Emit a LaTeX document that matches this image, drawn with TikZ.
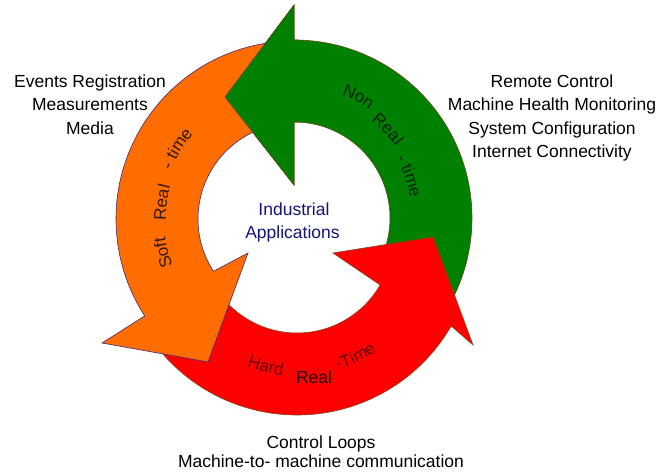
\documentclass[tikz,border=0pt]{standalone}
\usepackage{fontspec}
\setmainfont{Liberation Sans}
\usetikzlibrary{decorations.text}
\definecolor{orng}{RGB}{255,108,0}
\definecolor{grn}{RGB}{0,128,0}
\definecolor{rd}{RGB}{255,0,0}
\definecolor{orngline}{RGB}{70,40,110}
\definecolor{grnline}{RGB}{100,70,20}
\definecolor{rdline}{RGB}{130,70,30}
\definecolor{navytxt}{RGB}{20,20,125}
\definecolor{gtxt}{RGB}{0,35,0}
\definecolor{otxt}{RGB}{50,25,0}
\definecolor{rtxt}{RGB}{105,0,0}
\definecolor{rreal}{RGB}{40,0,0}
\newcommand{\arcfont}{\fontsize{17}{20}\selectfont}
\newcommand{\grnpath}{([shift={(-30:96)}]gc) arc[start angle=-30, end angle=90, radius=96] -- (294,290) -- (225,378) -- (294,470) -- ([shift={(90:178)}]gc) arc[start angle=90, end angle=-30, radius=178] -- cycle}
\tikzset{
  arrowbody/.style={line width=0.6pt, line join=miter},
  lbl/.style={font=\fontsize{17.5}{21}\selectfont, anchor=base, inner sep=0pt},
  ctr/.style={font=\fontsize{17.5}{21}\selectfont, anchor=base, inner sep=0pt, text=navytxt},
}
\begin{document}
\begin{tikzpicture}[x=1pt,y=1pt]
\useasboundingbox (0,0) rectangle (661,475);
\coordinate (gc) at (294,257);
\coordinate (oc) at (294,256);
\coordinate (rc) at (297,238);

% green arrow
\path[arrowbody, fill=grn, draw=grnline] \grnpath;
% red arrow
\path[arrowbody, fill=rd, draw=rdline] ([shift={(215:178)}]rc) arc[start angle=215, end angle=330, radius=178] -- (473,130) -- (433,238) -- (333,222) -- ([shift={(330:96)}]rc) arc[start angle=330, end angle=215, radius=96] -- cycle;
% orange arrow
\path[arrowbody, fill=orng, draw=orngline] ([shift={(95:178)}]oc) arc[start angle=95, end angle=213, radius=178] -- (102,132) -- (208,113) -- (248,222) -- ([shift={(213:96)}]oc) arc[start angle=213, end angle=95, radius=96] -- cycle;
% green head over orange tail
\begin{scope}
\clip (150,280) rectangle (300,475);
\path[arrowbody, fill=grn, draw=grnline] \grnpath;
\end{scope}

% texts on green
\path[decorate, decoration={text along path, text={|\arcfont|Non}, text align=center, text color=gtxt}] ([shift={(74:132)}]gc) arc[start angle=74, end angle=50, radius=132];
\path[decorate, decoration={text along path, text={|\arcfont|Real}, text align=center, text color=gtxt}] ([shift={(57:124)}]gc) arc[start angle=57, end angle=30, radius=124];
\path[decorate, decoration={text along path, text={|\arcfont|- time}, text align=center, text color=gtxt}] ([shift={(38:118)}]gc) arc[start angle=38, end angle=2, radius=118];
% texts on orange
\path[decorate, decoration={text along path, text={|\arcfont|Soft}, text align=center, text color=otxt}] ([shift={(208:130)}]oc) arc[start angle=208, end angle=181, radius=130];
\path[decorate, decoration={text along path, text={|\arcfont|Real}, text align=center, text color=otxt}] ([shift={(188:128)}]oc) arc[start angle=188, end angle=158, radius=128];
\path[decorate, decoration={text along path, text={|\arcfont|- time}, text align=center, text color=otxt}] ([shift={(167:132)}]oc) arc[start angle=167, end angle=131, radius=132];
% texts on red
\path[decorate, decoration={text along path, text={|\arcfont|Hard}, text align=center, text color=rtxt}] ([shift={(244:139)}]rc) arc[start angle=244, end angle=269, radius=139];
\path[decorate, decoration={text along path, text={|\arcfont|-Time}, text align=center, text color=rtxt}] ([shift={(282:139)}]rc) arc[start angle=282, end angle=310, radius=139];
\node[lbl, text=rreal] (hreal) at (314,92) {Real};

% centre
\node[ctr] (ind1) at (294,260) {Industrial};
\node[ctr] (ind2) at (292.5,237) {Applications};

% left labels
\node[lbl] (l1) at (90,387) {Events Registration};
\node[lbl] (l2) at (90,364) {Measurements};
\node[lbl] (l3) at (90,341) {Media};
% right labels
\node[lbl] (r1) at (552,387) {Remote Control};
\node[lbl] (r2) at (552,364) {Machine Health Monitoring};
\node[lbl] (r3) at (552,341) {System Configuration};
\node[lbl] (r4) at (552,318) {Internet Connectivity};
% bottom labels
\node[lbl] (b1) at (321,27) {Control Loops};
\node[lbl] (b2) at (321,8) {Machine-to- machine communication};
\end{tikzpicture}
\end{document}
